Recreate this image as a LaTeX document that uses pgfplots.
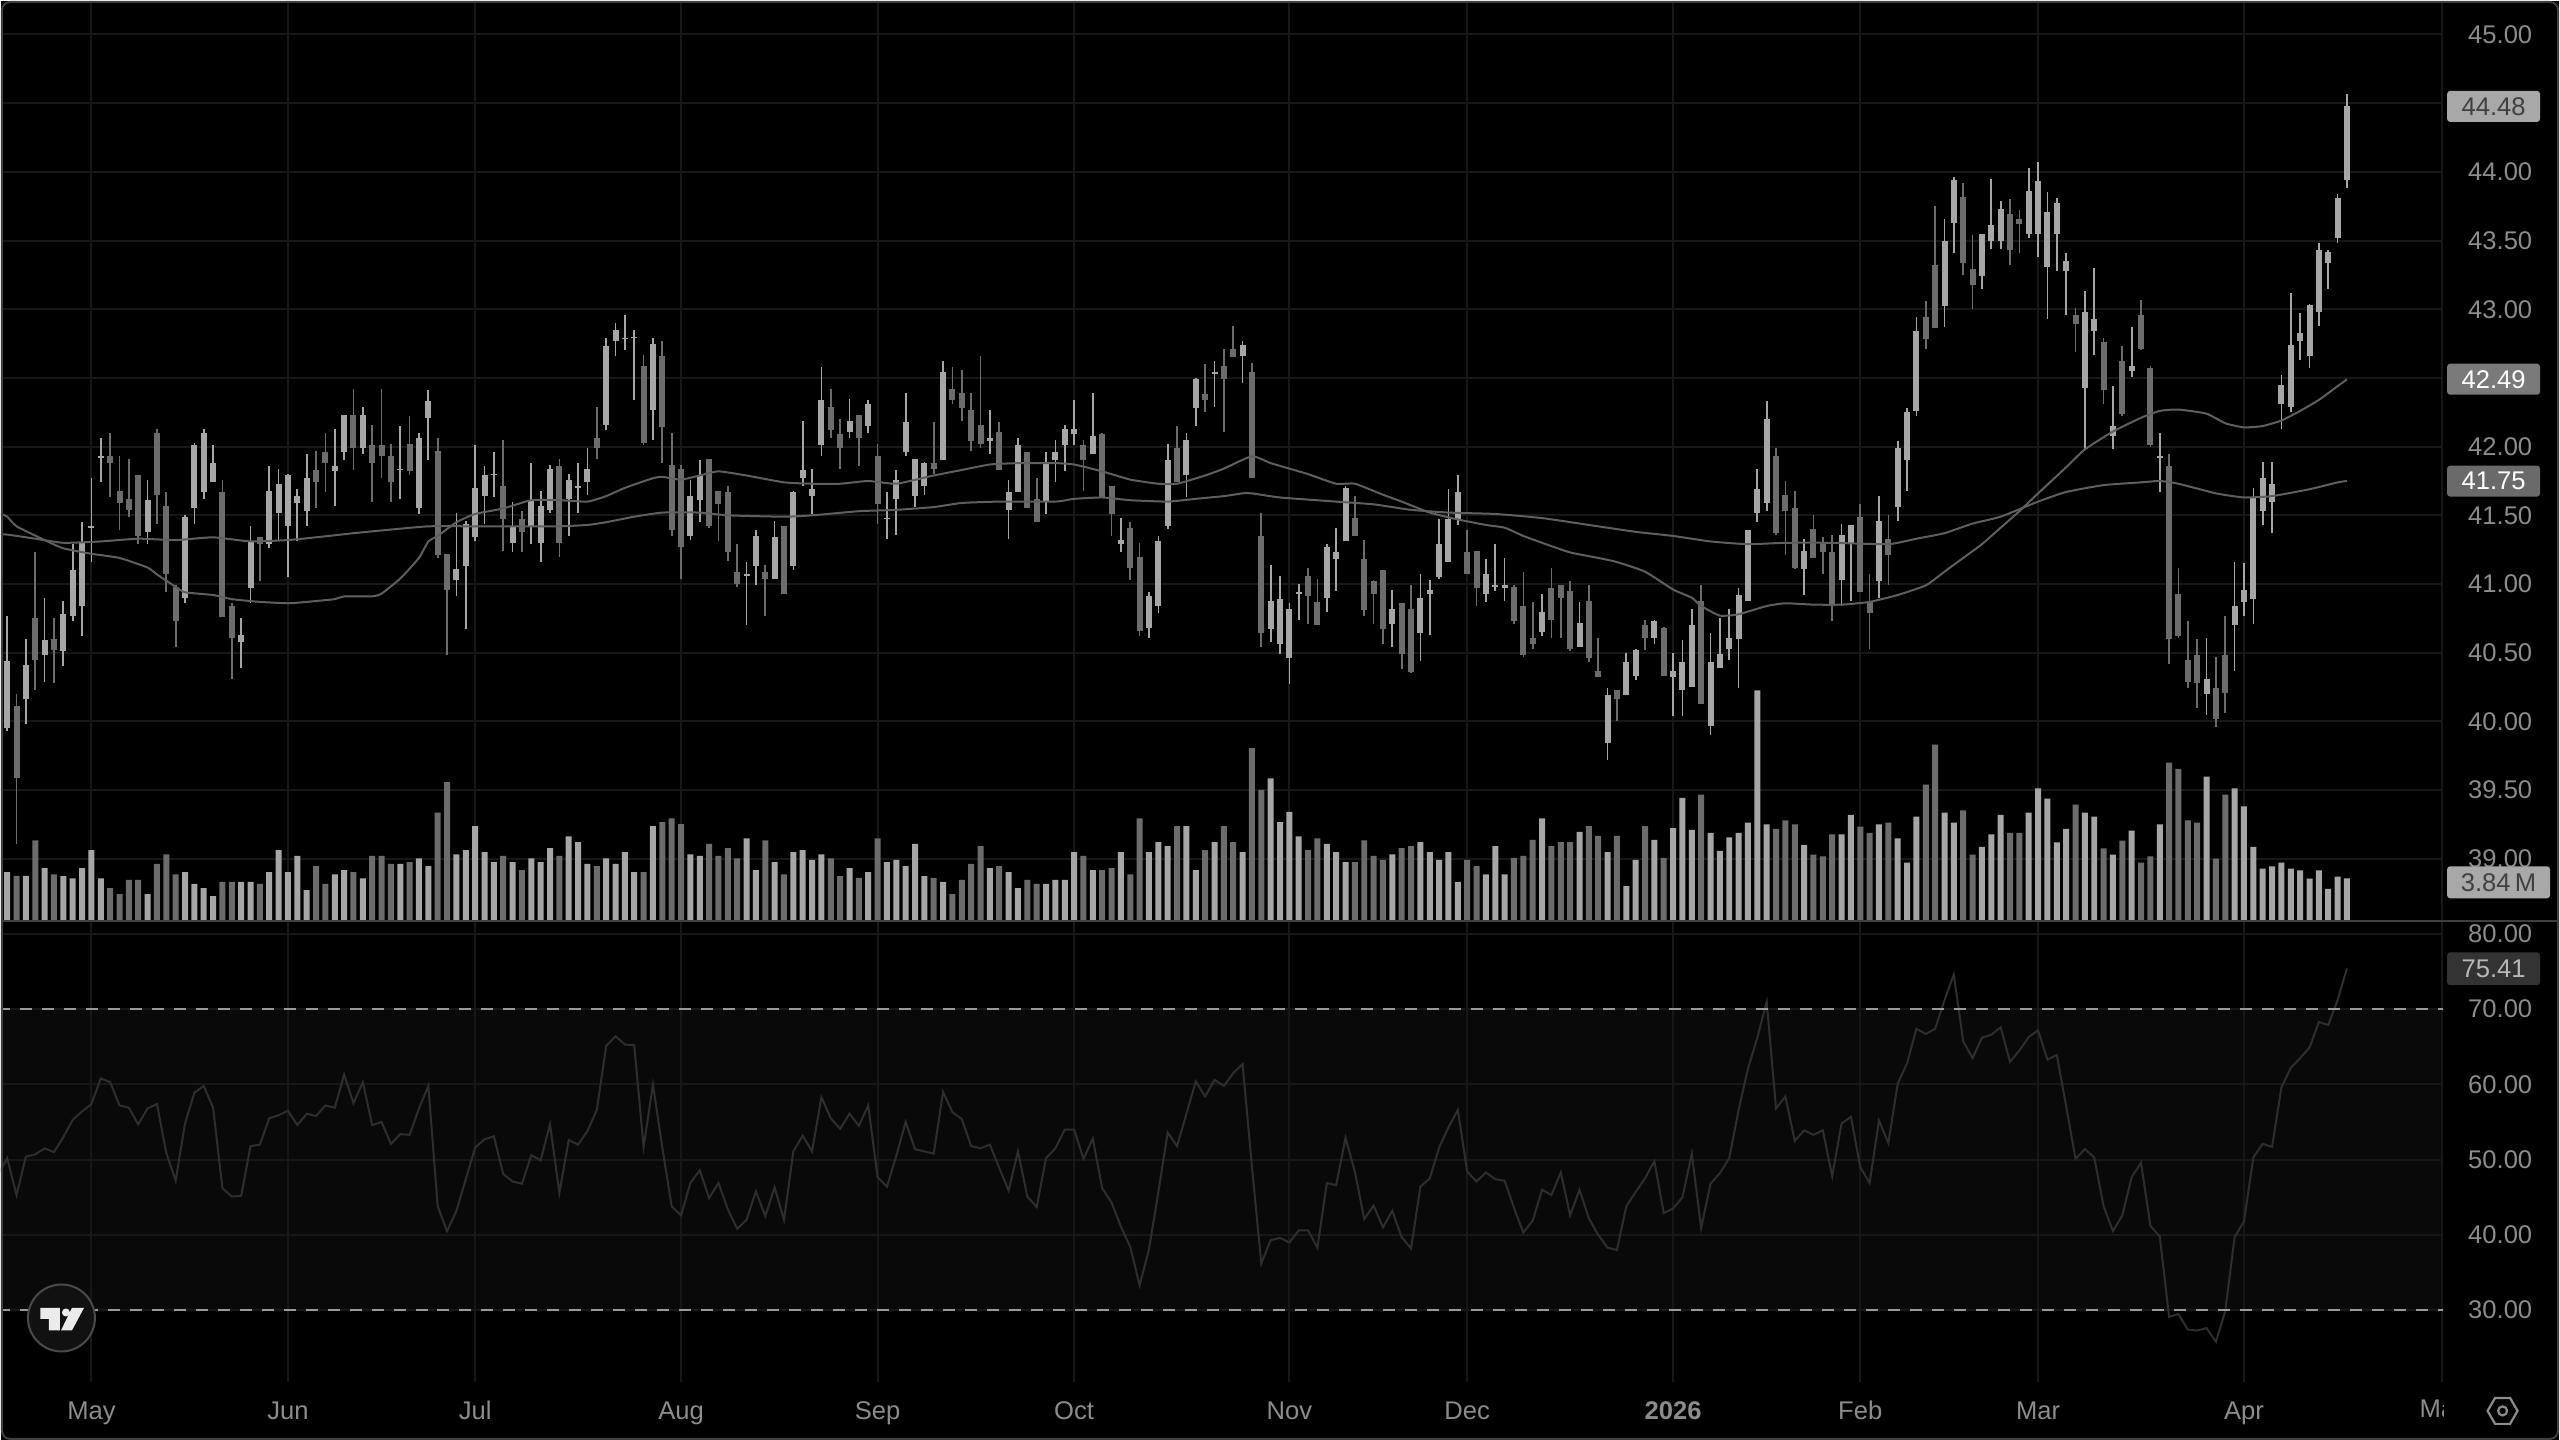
\documentclass[border=0pt]{standalone}
\usepackage{pgfplots}
\pgfplotsset{compat=1.18}
\usepackage{pgfplotstable}
\usepackage{fontspec}
\setmainfont{Liberation Sans}
\definecolor{upc}{HTML}{A6A6A6}
\definecolor{dnc}{HTML}{6C6C6C}
\definecolor{gridc}{HTML}{171717}
\definecolor{labc}{HTML}{8C8C8C}
\definecolor{mac}{HTML}{5F5F5F}
\definecolor{rsic}{HTML}{2E2E2E}
\definecolor{bandc}{HTML}{090909}
\definecolor{sepc}{HTML}{3F3F3F}
\definecolor{dashc}{HTML}{9A9A9A}
\definecolor{boxa}{HTML}{A8A8A8}
\definecolor{boxb}{HTML}{7A7A7A}
\definecolor{boxc}{HTML}{6A6A6A}
\definecolor{boxd}{HTML}{333333}
\definecolor{logoc}{HTML}{111111}
\definecolor{logob}{HTML}{4A4A4A}
\definecolor{logot}{HTML}{EBEBEB}
\definecolor{txtd}{HTML}{404040}
\definecolor{txtl}{HTML}{B8B8B8}
\pgfplotstableread{
i l h b t v
0 39.93 40.77 39.95 40.44 4.40
2 39.98 40.60 40.16 40.41 4.07
4 40.29 40.90 40.48 40.59 4.77
6 40.40 40.88 40.51 40.78 4.03
7 40.73 41.29 40.77 41.10 3.84
8 40.62 41.45 40.84 41.30 4.77
9 41.16 41.77 41.41 41.42 6.42
10 41.74 42.06 41.92 41.93 3.84
15 41.29 41.76 41.38 41.61 2.39
19 40.86 41.50 40.90 41.49 4.40
20 41.44 42.03 41.55 42.01 3.32
21 41.62 42.13 41.67 42.10 2.95
22 41.74 42.01 41.74 41.88 2.20
25 40.39 40.75 40.58 40.63 3.51
26 40.86 41.42 40.97 41.31 3.51
28 41.26 41.86 41.29 41.68 4.40
29 41.31 41.84 41.52 41.73 6.42
30 41.05 41.80 41.42 41.79 4.40
31 41.31 41.69 41.59 41.64 5.89
32 41.42 41.95 41.53 41.77 2.76
35 41.57 42.13 41.82 41.86 4.21
36 41.90 42.23 41.96 42.23 4.59
38 41.95 42.29 41.99 42.23 3.84
42 41.62 42.15 41.83 41.84 5.15
44 41.51 42.10 41.55 42.06 5.67
45 41.90 42.41 42.21 42.33 4.96
48 40.91 41.52 41.03 41.11 6.04
49 40.67 41.46 41.13 41.44 6.42
50 41.31 42.01 41.34 41.70 8.62
51 41.44 41.86 41.64 41.79 6.23
52 41.63 41.96 41.79 41.80 5.33
54 41.23 41.60 41.30 41.42 5.33
56 41.29 41.88 41.42 41.61 5.67
57 41.16 41.68 41.30 41.57 5.33
58 41.52 41.87 41.54 41.84 6.60
60 41.35 41.80 41.62 41.76 7.68
61 41.52 41.88 41.70 41.71 7.16
62 41.65 41.99 41.74 41.84 5.15
64 42.12 42.79 42.16 42.73 5.67
65 42.66 42.90 42.77 42.85 5.15
66 42.70 42.96 42.78 42.79 6.23
67 42.34 42.85 42.79 42.80 4.40
69 42.05 42.79 42.27 42.75 8.62
73 41.32 41.76 41.35 41.64 6.04
74 41.45 41.90 41.61 41.79 5.89
79 40.70 41.16 41.06 41.07 7.50
80 40.99 41.39 41.13 41.35 4.59
82 41.04 41.46 41.04 41.34 5.33
84 41.10 41.68 41.13 41.67 6.23
85 41.71 42.19 41.77 41.83 6.42
86 41.51 41.84 41.64 41.69 5.52
87 41.93 42.58 42.01 42.34 6.04
90 42.06 42.35 42.11 42.19 4.77
92 42.10 42.34 42.15 42.31 4.40
94 41.33 41.67 41.47 41.48 5.33
95 41.36 41.83 41.62 41.76 5.52
96 41.93 42.39 41.96 42.18 4.96
97 41.56 41.91 41.64 41.91 6.98
98 41.65 41.89 41.71 41.88 4.03
100 41.90 42.62 41.90 42.54 3.51
105 41.95 42.27 42.04 42.06 4.77
107 41.33 41.76 41.54 41.67 4.40
108 41.67 42.06 41.67 42.01 2.95
111 41.51 41.96 41.60 41.89 3.32
112 41.74 42.05 41.90 41.96 3.69
113 41.82 42.16 42.01 42.13 3.69
114 42.01 42.34 42.09 42.13 6.23
116 41.95 42.39 41.95 42.08 4.59
119 41.23 41.48 41.29 41.32 6.23
122 40.61 40.94 40.68 40.91 6.23
123 40.79 41.35 40.84 41.31 7.16
124 41.40 42.02 41.42 41.90 6.79
126 41.63 42.10 41.79 42.05 8.62
127 42.15 42.50 42.28 42.49 4.59
129 42.29 42.62 42.53 42.54 7.16
132 42.46 42.77 42.66 42.74 6.23
135 40.58 41.14 40.67 40.88 12.98
136 40.49 41.06 40.56 40.89 8.99
137 40.27 40.86 40.46 40.82 9.92
138 40.74 41.00 40.93 40.94 7.68
141 40.80 41.29 40.90 41.27 6.98
142 40.95 41.41 41.18 41.23 6.23
143 41.31 41.71 41.31 41.70 5.33
148 40.54 40.96 40.71 40.82 6.04
151 40.44 41.07 40.64 40.90 7.16
152 40.63 41.03 40.93 40.96 6.23
153 41.04 41.47 41.05 41.29 5.52
154 41.16 41.69 41.16 41.47 6.23
155 41.43 41.79 41.47 41.67 3.51
158 40.87 41.18 40.93 41.07 4.21
159 40.95 41.29 40.98 40.99 6.79
160 40.88 41.19 40.97 40.99 4.21
164 40.62 40.93 40.65 40.80 9.33
168 40.54 40.87 40.54 40.72 8.09
171 39.72 40.24 39.84 40.19 6.23
173 40.19 40.50 40.19 40.43 3.13
174 40.30 40.53 40.33 40.52 5.52
176 40.56 40.74 40.61 40.73 7.35
178 40.04 40.50 40.32 40.37 8.43
179 40.04 40.59 40.23 40.43 11.19
180 40.25 40.82 40.25 40.70 8.28
182 39.90 40.64 39.97 40.43 8.00
183 40.39 40.75 40.39 40.49 6.36
184 40.45 40.82 40.53 40.61 7.59
185 40.24 40.97 40.60 40.92 8.00
186 40.88 41.39 40.88 41.39 8.93
187 41.45 41.84 41.52 41.69 21.03
188 41.53 42.33 41.59 42.20 8.77
192 40.92 41.33 41.11 41.24 6.87
196 40.84 41.44 41.03 41.36 7.85
197 40.88 41.43 41.29 41.43 9.64
200 40.90 41.64 41.02 41.46 8.77
202 41.46 42.04 41.56 41.99 7.49
203 41.68 42.28 41.90 42.25 5.28
204 42.22 42.94 42.26 42.84 9.49
207 42.87 43.66 43.02 43.50 9.85
208 43.41 43.96 43.63 43.94 8.93
211 43.15 43.55 43.24 43.55 6.72
212 43.44 43.95 43.50 43.61 7.85
213 43.44 43.79 43.50 43.73 9.64
216 43.52 44.03 43.55 43.86 9.85
217 43.38 44.07 43.55 43.93 12.06
218 42.93 43.85 43.31 43.71 11.13
219 43.28 43.81 43.55 43.77 7.13
220 42.96 43.41 43.28 43.35 8.36
222 41.98 43.13 42.43 42.98 9.85
223 42.67 43.30 42.84 42.93 9.49
225 41.98 42.44 42.08 42.15 6.00
227 42.51 42.87 42.55 42.59 8.21
230 41.67 42.10 41.92 41.93 8.77
235 40.05 40.61 40.20 40.31 13.13
238 40.37 41.16 40.70 40.84 12.06
239 40.77 41.15 40.87 40.96 10.41
240 40.71 41.70 40.89 41.63 6.72
241 41.43 41.89 41.53 41.77 4.72
242 41.37 41.89 41.60 41.73 4.92
243 42.13 42.52 42.31 42.45 5.28
244 42.25 43.12 42.29 42.74 4.72
245 42.63 42.97 42.77 42.83 4.57
246 42.57 43.04 42.66 43.03 3.80
247 42.88 43.48 42.98 43.43 4.57
248 43.15 43.43 43.34 43.42 2.87
249 43.48 43.84 43.52 43.81 4.00
250 43.88 44.57 43.94 44.48 3.84
}\uptable
\pgfplotstableread{
i l h b t v
1 39.11 40.20 39.59 40.11 4.07
3 40.23 41.23 40.45 40.75 7.31
5 40.28 40.75 40.52 40.60 4.21
11 41.63 42.10 41.88 41.93 2.95
12 41.39 41.93 41.59 41.68 2.39
13 41.49 41.91 41.54 41.62 3.69
14 41.29 41.79 41.35 41.79 3.69
16 41.44 42.13 41.65 42.10 5.15
17 40.94 41.67 41.07 41.57 6.04
18 40.54 40.99 40.73 40.98 4.21
23 40.76 41.76 40.76 41.67 3.51
24 40.31 40.86 40.61 40.84 3.51
27 41.02 41.34 41.29 41.34 3.32
33 41.55 41.97 41.74 41.83 4.96
34 41.67 42.10 41.88 41.96 3.32
37 41.83 42.42 41.99 42.23 4.40
39 41.60 42.16 41.88 42.01 5.89
40 41.77 42.42 41.93 42.01 5.89
41 41.60 42.02 41.74 41.93 5.15
43 41.79 42.22 41.82 42.02 5.33
46 41.19 42.06 41.21 41.97 9.85
47 40.48 41.22 40.96 41.22 12.64
53 41.24 42.05 41.47 41.71 5.89
55 41.23 41.53 41.38 41.47 4.59
59 41.20 41.91 41.30 41.86 5.89
63 41.91 42.29 41.99 42.06 4.96
68 42.01 42.67 42.03 42.59 4.40
70 41.88 42.77 42.14 42.66 8.99
71 41.35 42.10 41.39 41.87 9.33
72 41.04 41.87 41.27 41.84 8.80
75 41.41 41.91 41.42 41.91 6.98
76 41.31 41.68 41.58 41.68 5.89
77 41.17 41.71 41.23 41.67 6.60
78 40.98 41.29 41.00 41.09 5.67
81 40.77 41.14 41.04 41.09 7.31
83 40.93 41.42 40.93 41.42 4.21
88 42.06 42.42 42.12 42.29 5.67
89 41.84 42.20 41.99 42.09 4.03
91 41.86 42.23 42.06 42.23 3.88
93 41.44 42.02 41.58 41.93 7.50
99 41.80 42.18 41.84 41.88 3.88
101 42.31 42.58 42.34 42.42 2.39
102 42.19 42.56 42.28 42.39 3.69
103 41.97 42.39 42.04 42.27 5.15
104 41.99 42.66 42.02 42.16 6.79
106 41.83 42.18 41.83 42.11 4.96
109 41.55 41.96 41.55 41.96 3.69
110 41.45 41.77 41.45 41.62 3.32
115 41.68 42.05 41.90 42.01 5.89
117 41.63 42.10 41.63 42.09 4.59
118 41.35 41.71 41.51 41.71 4.77
120 41.03 41.45 41.12 41.41 4.21
121 40.62 41.30 40.66 41.20 9.33
125 41.74 42.15 41.74 41.99 8.62
128 42.25 42.60 42.34 42.38 6.42
130 42.11 42.71 42.49 42.59 8.62
131 42.65 42.88 42.65 42.71 7.16
133 41.77 42.61 41.77 42.54 15.74
134 40.54 41.52 40.64 41.35 11.94
139 40.71 41.12 40.91 41.06 6.42
140 40.70 41.04 40.70 40.87 7.50
144 41.35 41.64 41.35 41.48 5.33
145 40.77 41.32 40.81 41.18 7.31
146 40.71 41.03 40.93 41.02 5.89
147 40.56 41.10 40.67 41.10 5.52
149 40.38 40.86 40.49 40.86 6.60
150 40.35 40.99 40.36 40.82 6.79
156 41.07 41.39 41.07 41.23 5.52
157 40.84 41.24 40.97 41.24 4.96
161 40.71 40.99 40.73 40.98 5.71
162 40.47 41.09 40.48 40.84 5.89
163 40.53 40.87 40.56 40.61 7.35
165 40.61 41.12 40.74 40.97 6.79
166 40.61 40.99 40.90 40.99 7.16
167 40.51 41.02 40.53 40.95 7.16
169 40.43 40.99 40.46 40.88 8.62
170 40.32 40.61 40.32 40.37 7.72
172 40.00 40.23 40.16 40.23 7.72
175 40.52 40.74 40.61 40.70 8.62
177 40.33 40.69 40.33 40.68 5.71
181 40.13 40.99 40.13 40.88 11.50
189 41.36 41.99 41.37 41.93 8.36
190 41.21 41.75 41.53 41.65 9.13
191 41.11 41.68 41.12 41.55 8.77
193 41.19 41.50 41.19 41.40 6.00
194 41.07 41.34 41.23 41.30 5.85
195 40.73 41.36 40.84 41.23 7.85
198 40.94 41.58 40.94 41.49 8.57
199 40.53 41.07 40.79 40.88 8.00
201 40.99 41.50 41.21 41.33 8.93
205 42.71 43.06 42.78 42.94 12.41
206 42.86 43.75 42.86 43.32 16.06
209 43.25 43.92 43.34 43.82 10.05
210 43.00 43.54 43.18 43.29 6.00
214 43.32 43.80 43.43 43.69 8.00
215 43.41 43.72 43.62 43.66 8.00
221 42.69 43.01 42.89 42.96 10.57
224 42.31 42.79 42.41 42.76 6.57
226 42.22 42.73 42.24 42.62 7.28
228 42.70 43.07 42.71 42.96 5.28
229 42.00 42.59 42.01 42.57 5.85
231 40.42 41.95 40.60 41.86 14.42
232 40.61 41.12 40.62 40.93 13.85
233 40.24 40.73 40.29 40.45 9.13
234 40.10 40.60 40.28 40.48 8.93
236 39.96 40.47 40.02 40.24 5.64
237 40.06 40.77 40.21 40.48 11.49
}\dntable
\pgfplotstableread{
i r
-1 47.9
0 50.2
1 45.3
2 50.4
3 50.7
4 51.5
5 51.0
6 53.0
7 55.3
8 56.4
9 57.4
10 60.8
11 60.3
12 57.2
13 56.9
14 54.7
15 56.8
16 57.4
17 50.9
18 47.2
19 54.8
20 58.9
21 59.8
22 56.9
23 46.2
24 45.1
25 45.2
26 51.8
27 52.0
28 55.5
29 55.9
30 56.5
31 54.6
32 56.1
33 55.8
34 57.2
35 56.9
36 61.3
37 57.5
38 60.3
39 54.6
40 55.0
41 52.1
42 53.4
43 53.3
44 56.8
45 59.8
46 43.8
47 40.5
48 43.2
49 47.4
50 51.6
51 52.7
52 53.1
53 48.1
54 47.1
55 46.8
56 50.6
57 49.9
58 54.7
59 45.6
60 52.6
61 52.0
62 53.8
63 56.6
64 65.1
65 66.4
66 65.3
67 65.2
68 51.7
69 60.0
70 51.6
71 43.8
72 42.6
73 46.9
74 48.6
75 44.9
76 46.9
77 43.4
78 40.8
79 42.0
80 45.8
81 42.5
82 46.3
83 42.0
84 51.1
85 53.2
86 51.1
87 58.3
88 55.5
89 54.1
90 56.1
91 54.5
92 57.2
93 47.7
94 46.4
95 50.5
96 55.0
97 51.4
98 51.1
99 50.8
100 59.0
101 56.3
102 55.4
103 51.8
104 51.5
105 52.0
106 48.9
107 45.9
108 51.1
109 45.1
110 43.7
111 50.2
112 51.5
113 54.0
114 54.0
115 50.1
116 52.8
117 46.2
118 44.3
119 41.1
120 38.4
121 33.3
122 38.1
123 45.7
124 53.6
125 51.8
126 56.1
127 60.4
128 58.4
129 60.6
130 59.8
131 61.5
132 62.7
133 49.1
134 36.2
135 39.3
136 39.6
137 39.0
138 40.6
139 40.6
140 38.3
141 46.9
142 46.6
143 52.9
144 48.4
145 42.1
146 43.9
147 41.0
148 43.2
149 39.7
150 38.2
151 46.4
152 47.5
153 51.6
154 54.3
155 56.6
156 48.4
157 47.1
158 48.3
159 47.4
160 47.2
161 43.6
162 40.3
163 41.9
164 46.0
165 45.3
166 48.3
167 42.6
168 46.0
169 42.2
170 40.0
171 38.3
172 38.0
173 43.8
174 45.7
175 47.5
176 49.8
177 42.9
178 43.5
179 45.0
180 50.8
181 40.9
182 46.8
183 48.2
184 50.2
185 56.6
186 62.1
187 66.2
188 71.0
189 56.8
190 58.4
191 52.5
192 53.9
193 53.3
194 53.9
195 47.8
196 54.8
197 55.7
198 49.0
199 46.9
200 55.2
201 52.2
202 60.1
203 62.8
204 67.4
205 66.7
206 67.4
207 71.2
208 74.6
209 65.7
210 63.5
211 66.2
212 66.6
213 67.6
214 63.0
215 64.5
216 66.3
217 67.2
218 63.3
219 63.9
220 57.1
221 50.1
222 51.4
223 50.3
224 43.8
225 40.5
226 42.6
227 47.7
228 49.6
229 41.2
230 39.8
231 29.1
232 29.5
233 27.4
234 27.3
235 27.6
236 25.8
237 29.9
238 39.7
239 41.8
240 50.3
241 52.1
242 51.7
243 59.6
244 62.2
245 63.5
246 64.9
247 68.3
248 67.9
249 71.2
250 75.41
}\rsitable
\pgfplotsset{
 pane/.style={
  scale only axis, width=1222pt, xmin=-0.662, xmax=260.28,
  axis line style={draw=none}, tick style={draw=none},
  major tick length=0pt, clip=true},
 none/.style={xtick=\empty, ytick=\empty},
}
\begin{document}
\begin{tikzpicture}[x=1pt,y=1pt]
\fill[black] (0,0) rectangle (1280,720);
\begin{scope}[x=0.5pt,y=-0.5pt,yshift=720pt]
 \fill[bandc] (0,1009) rectangle (2444,1310);
\end{scope}
% --- RSI pane
\begin{axis}[pane, at={(0pt,29pt)}, anchor=south west, height=230pt,
  ymin=20.46, ymax=81.55,
  xtick={9,30,50,72,93,114,137,156,178,198,217,239,260.2},
  xticklabels={May,Jun,Jul,Aug,Sep,Oct,Nov,Dec,\textbf{2026},Feb,Mar,Apr,{}},
  ytick={30,40,50,60,70,80},
  yticklabels={30.00,40.00,50.00,60.00,70.00,80.00},
  yticklabel pos=right, tick label style={font=\fontsize{12.8}{14}\selectfont, text=labc},
  yticklabel style={anchor=west, xshift=9pt},
  xticklabel style={anchor=center, yshift=-15.5pt, text height=9pt, text depth=2.5pt},
  grid=major, major grid style={color=gridc, line width=1pt},
]
\addplot[rsic, line width=1pt] table[x=i,y=r] {\rsitable};
\addplot[dashc, line width=0.9pt, dash pattern=on 6pt off 5pt] coordinates {(-1,70) (261,70)};
\addplot[dashc, line width=0.9pt, dash pattern=on 6pt off 5pt] coordinates {(-1,30) (261,30)};
\end{axis}
% --- price grid and labels
\begin{axis}[pane, at={(0pt,260pt)}, anchor=south west, height=460pt,
  ymin=38.5527, ymax=45.2436,
  xtick={9,30,50,72,93,114,137,156,178,198,217,239,260.2}, xticklabels={},
  ytick={39,39.5,40,40.5,41,41.5,42,42.5,43,43.5,44,44.5,45},
  yticklabels={39.00,39.50,40.00,40.50,41.00,41.50,42.00,{},43.00,43.50,44.00,{},45.00},
  yticklabel pos=right, tick label style={font=\fontsize{12.8}{14}\selectfont, text=labc},
  yticklabel style={anchor=west, xshift=9pt},
  grid=major, major grid style={color=gridc, line width=1pt},
]
\addplot[draw=none, forget plot] coordinates {(0,40)};
\end{axis}
% --- volume
\begin{axis}[pane, none, at={(0pt,260pt)}, anchor=south west, height=460pt, ymin=0, ymax=84.09]
\addplot[ybar, bar width=3pt, bar shift=0pt, fill=upc, draw=none] table[x=i,y=v] {\uptable};
\addplot[ybar, bar width=3pt, bar shift=0pt, fill=dnc, draw=none] table[x=i,y=v] {\dntable};
\end{axis}
% --- candles and averages
\begin{axis}[pane, none, at={(0pt,260pt)}, anchor=south west, height=460pt,
  ymin=38.5527, ymax=45.2436]
\addplot[upc, line width=0.85pt, mark=none, quiver={u=0, v=\thisrow{h}-\thisrow{l}}] table[x=i, y=l] {\uptable};
\addplot[upc, line width=3pt, mark=none, quiver={u=0, v=\thisrow{t}-\thisrow{b}}] table[x=i, y=b] {\uptable};
\addplot[dnc, line width=0.85pt, mark=none, quiver={u=0, v=\thisrow{h}-\thisrow{l}}] table[x=i, y=l] {\dntable};
\addplot[dnc, line width=3pt, mark=none, quiver={u=0, v=\thisrow{t}-\thisrow{b}}] table[x=i, y=b] {\dntable};
\addplot[mac, line width=1pt, smooth, tension=0.3] coordinates {
(-1,41.52)(0,41.49)(1,41.42)(4,41.32)(6,41.26)(9,41.22)(12,41.19)(15,41.12)(16,41.07)(18,40.98)(19,40.94)(22,40.92)(24,40.89)(27,40.87)(30,40.86)(32,40.87)(35,40.89)(36,40.91)(39,40.91)(40,40.93)(42,41.04)(44,41.19)(45,41.31)(46,41.35)(48,41.45)(50,41.51)(53,41.55)(56,41.61)(59,41.61)(62,41.60)(64,41.64)(66,41.70)(69,41.77)(70,41.78)(72,41.76)(74,41.79)(76,41.82)(79,41.79)(83,41.74)(86,41.73)(89,41.73)(92,41.75)(95,41.73)(99,41.79)(102,41.83)(105,41.87)(108,41.88)(112,41.88)(114,41.87)(117,41.82)(120,41.76)(123,41.73)(125,41.73)(128,41.79)(130,41.84)(133,41.93)(135,41.88)(137,41.84)(139,41.80)(142,41.73)(144,41.73)(147,41.65)(149,41.60)(152,41.52)(155,41.47)(158,41.43)(160,41.41)(162,41.35)(164,41.30)(167,41.23)(170,41.19)(172,41.16)(175,41.09)(178,40.96)(180,40.90)(181,40.84)(183,40.77)(185,40.78)(188,40.84)(190,40.86)(193,40.85)(196,40.85)(199,40.87)(202,40.92)(205,40.99)(207,41.09)(209,41.19)(211,41.29)(213,41.41)(215,41.53)(217,41.66)(220,41.85)(222,41.98)(225,42.11)(228,42.21)(230,42.26)(232,42.27)(235,42.24)(237,42.17)(239,42.14)(241,42.15)(243,42.19)(245,42.26)(247,42.34)(249,42.44)(250,42.49)};
\addplot[mac, line width=1pt, smooth, tension=0.3] coordinates {
(-1,41.36)(0,41.36)(3,41.33)(6,41.30)(10,41.31)(14,41.33)(18,41.32)(22,41.34)(26,41.31)(30,41.32)(33,41.34)(37,41.37)(40,41.39)(45,41.42)(50,41.42)(55,41.42)(59,41.42)(62,41.43)(64,41.45)(67,41.49)(70,41.52)(74,41.52)(77,41.50)(83,41.49)(86,41.50)(91,41.53)(95,41.54)(99,41.56)(102,41.59)(106,41.60)(112,41.60)(114,41.62)(117,41.63)(120,41.61)(124,41.60)(127,41.62)(130,41.64)(132,41.66)(133,41.66)(136,41.63)(142,41.60)(146,41.58)(150,41.54)(154,41.52)(159,41.51)(164,41.48)(169,41.43)(174,41.38)(178,41.35)(182,41.31)(186,41.29)(190,41.30)(195,41.30)(201,41.29)(204,41.33)(207,41.37)(210,41.44)(213,41.49)(217,41.60)(220,41.67)(224,41.72)(228,41.74)(230,41.75)(232,41.73)(236,41.66)(239,41.63)(242,41.64)(246,41.69)(249,41.74)(250,41.75)};
\end{axis}
% --- chrome, in reference pixels
\begin{scope}[x=0.5pt,y=-0.5pt,yshift=720pt]
 \draw[sepc, line width=1pt] (0,921) -- (2560,921);
 \begin{scope}\clip (2400,1390) rectangle (2444,1432);
  \node[text=labc, font=\fontsize{12.8}{14}\selectfont, anchor=west, inner sep=0pt] at (2420,1411) {May};
 \end{scope}
 \tikzset{pb/.style={rounded corners=1.5pt, fill=#1}, pt/.style={font=\fontsize{12.8}{14}\selectfont, anchor=center, inner sep=0pt}}
 \fill[pb=boxa] (2448,90) rectangle (2541,121);
 \node[pt,text=txtd] at (2494.5,105.5) {44.48};
 \fill[pb=boxb] (2448,363) rectangle (2541,394);
 \node[pt,text=white] at (2494.5,378.5) {42.49};
 \fill[pb=boxc] (2448,465) rectangle (2541,496);
 \node[pt,text=white] at (2494.5,480.5) {41.75};
 \fill[pb=boxa] (2448,866) rectangle (2551,898);
 \node[pt,text=txtd] at (2499.5,882) {3.84\,M};
 \fill[pb=boxd] (2448,952) rectangle (2541,985);
 \node[pt,text=txtl] at (2494.5,968.5) {75.41};
 % logo
 \fill[logoc] (60.5,1318) circle[radius=33.5];
 \draw[logob, line width=1pt] (60.5,1318) circle[radius=33.5];
 \fill[logot] (39.5,1308) -- (59,1308) -- (59,1330.5) -- (48,1330.5) -- (48,1319) -- (39.5,1319) -- cycle;
 \fill[logot] (65,1312.5) circle[radius=4];
 \fill[logot] (71,1308) -- (83,1308) -- (71,1330.5) -- (60,1330.5) -- cycle;
 % settings
 \draw[labc, line width=1.1pt] (2488.5,1411) -- (2496,1398) -- (2511,1398) -- (2518.5,1411) -- (2511,1424) -- (2496,1424) -- cycle;
 \draw[labc, line width=1.1pt] (2503.5,1411) circle[radius=4.5];
 % frame
 \draw[sepc, line width=1pt, rounded corners=4pt] (1,1) rectangle (2559,1439);
\end{scope}
\end{tikzpicture}
\end{document}
